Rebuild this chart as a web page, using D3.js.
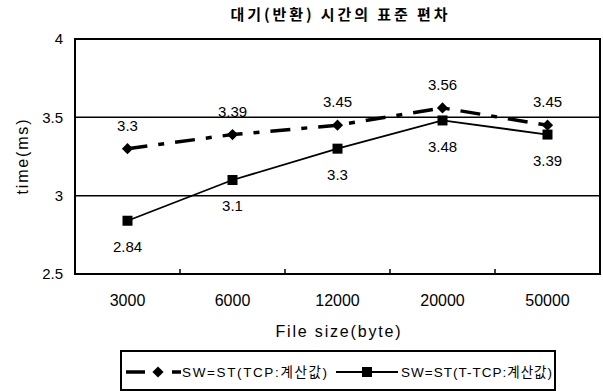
<!DOCTYPE html>
<html>
<head>
<meta charset="utf-8">
<script src="https://cdn.jsdelivr.net/npm/d3@7"></script>
<style>
  body { margin: 0; background: #fff; }
  text { font-family: "Liberation Sans", Arial, "Noto Sans CJK KR", sans-serif; fill: #000; }
  .kr { font-family: "Noto Sans CJK KR", "Liberation Sans", sans-serif; }
</style>
</head>
<body>
<svg id="chart" width="603" height="392"></svg>
<script>
/* data */
var fileSizes = ["3000", "6000", "12000", "20000", "50000"];
var tcpValues = [3.3, 3.39, 3.45, 3.56, 3.45];
var ttcpValues = [2.84, 3.1, 3.3, 3.48, 3.39];
var yTicks = [2.5, 3, 3.5, 4];
var seriesNames = ["SW=ST(TCP:계산값)", "SW=ST(T-TCP:계산값)"];
var chartTitle = "대기(반환) 시간의 표준 편차";

var svg = d3.select("#chart");

var plotLeft = 75, plotRight = 600, plotTop = 39, plotBottom = 274;

var x = d3.scaleBand().domain(fileSizes).range([plotLeft, plotRight]);
var y = d3.scaleLinear().domain([2.5, 4]).range([plotBottom, plotTop]);

function cx(i) { return x(fileSizes[i]) + x.bandwidth() / 2; }

// title
svg.append("text")
  .attr("class", "kr")
  .attr("x", 339).attr("y", 15)
  .attr("dy", "0.35em")
  .attr("text-anchor", "middle")
  .attr("font-size", 15)
  .attr("font-weight", "bold")
  .attr("textLength", 217)
  .attr("lengthAdjust", "spacing")
  .text(chartTitle);

// gridlines (inner)
svg.selectAll(".grid")
  .data(yTicks.filter(function(d) { return d > 2.5 && d < 4; }))
  .enter().append("line")
    .attr("x1", plotLeft).attr("x2", plotRight)
    .attr("y1", function(d) { return y(d); })
    .attr("y2", function(d) { return y(d); })
    .attr("stroke", "#000")
    .attr("stroke-width", 1.5);

// plot border
svg.append("rect")
  .attr("x", plotLeft).attr("y", plotTop)
  .attr("width", plotRight - plotLeft)
  .attr("height", plotBottom - plotTop)
  .attr("fill", "none")
  .attr("stroke", "#000")
  .attr("stroke-width", 2);

// y axis labels
svg.selectAll(".ylab")
  .data(yTicks)
  .enter().append("text")
    .attr("x", plotLeft - 12)
    .attr("y", function(d) { return y(d); })
    .attr("dy", "0.35em")
    .attr("text-anchor", "end")
    .attr("font-size", 15)
    .text(function(d) { return d; });

// x axis labels
var gx = svg.append("g")
  .attr("transform", "translate(0," + plotBottom + ")")
  .call(d3.axisBottom(x).tickSize(0));
gx.select(".domain").remove();
gx.selectAll("text")
  .attr("font-size", 16)
  .attr("font-family", "Liberation Sans, Arial, sans-serif")
  .attr("fill", "#000")
  .attr("dy", "0.35em")
  .attr("y", 26);

// inner ticks at band boundaries
svg.selectAll(".xtick")
  .data(fileSizes.slice(1))
  .enter().append("line")
    .attr("x1", function(d) { return x(d); })
    .attr("x2", function(d) { return x(d); })
    .attr("y1", plotBottom)
    .attr("y2", plotBottom - 5)
    .attr("stroke", "#000")
    .attr("stroke-width", 1.5);

// axis titles
svg.append("text")
  .attr("transform", "translate(22,157) rotate(-90)")
  .attr("dy", "0.35em")
  .attr("text-anchor", "middle")
  .attr("font-size", 16)
  .attr("textLength", 75)
  .attr("lengthAdjust", "spacing")
  .text("time(ms)");

svg.append("text")
  .attr("x", 338).attr("y", 331)
  .attr("dy", "0.35em")
  .attr("text-anchor", "middle")
  .attr("font-size", 16)
  .attr("textLength", 125)
  .attr("lengthAdjust", "spacing")
  .text("File size(byte)");

// lines
var line = d3.line()
  .x(function(d, i) { return cx(i); })
  .y(function(d) { return y(d); });

svg.append("path")
  .datum(ttcpValues)
  .attr("d", line)
  .attr("fill", "none")
  .attr("stroke", "#000")
  .attr("stroke-width", 1.8);

svg.append("path")
  .datum(tcpValues)
  .attr("d", line)
  .attr("fill", "none")
  .attr("stroke", "#000")
  .attr("stroke-width", 3.5)
  .attr("stroke-dasharray", "20,11,6,11");

// markers
var diamond = d3.symbol().type(d3.symbolDiamond2).size(80);
svg.selectAll(".tcp-pt")
  .data(tcpValues)
  .enter().append("path")
    .attr("d", diamond)
    .attr("transform", function(d, i) { return "translate(" + cx(i) + "," + y(d) + ")"; })
    .attr("fill", "#000");

svg.selectAll(".ttcp-pt")
  .data(ttcpValues)
  .enter().append("rect")
    .attr("x", function(d, i) { return cx(i) - 5; })
    .attr("y", function(d) { return y(d) - 5; })
    .attr("width", 10).attr("height", 10)
    .attr("fill", "#000");

// data labels
svg.selectAll(".tcp-lab")
  .data(tcpValues)
  .enter().append("text")
    .attr("x", function(d, i) { return cx(i); })
    .attr("y", function(d) { return y(d) - 23; })
    .attr("dy", "0.35em")
    .attr("text-anchor", "middle")
    .attr("font-size", 15)
    .text(function(d) { return d; });

svg.selectAll(".ttcp-lab")
  .data(ttcpValues)
  .enter().append("text")
    .attr("x", function(d, i) { return cx(i); })
    .attr("y", function(d) { return y(d) + 26; })
    .attr("dy", "0.35em")
    .attr("text-anchor", "middle")
    .attr("font-size", 15)
    .text(function(d) { return d; });

// legend
var legend = svg.append("g");
legend.append("rect")
  .attr("x", 121).attr("y", 351)
  .attr("width", 434).attr("height", 39)
  .attr("fill", "#fff")
  .attr("stroke", "#000")
  .attr("stroke-width", 2);

legend.append("line")
  .attr("x1", 126).attr("x2", 181)
  .attr("y1", 372).attr("y2", 372)
  .attr("stroke", "#000")
  .attr("stroke-width", 3.5)
  .attr("stroke-dasharray", "19,27,9,100");
legend.append("path")
  .attr("d", diamond)
  .attr("transform", "translate(158,372)")
  .attr("fill", "#000");
legend.append("text")
  .attr("x", 182).attr("y", 372)
  .attr("dy", "0.35em")
  .attr("font-size", 13.5)
  .attr("textLength", 145)
  .attr("lengthAdjust", "spacing")
  .text(seriesNames[0]);

legend.append("line")
  .attr("x1", 336).attr("x2", 398)
  .attr("y1", 372).attr("y2", 372)
  .attr("stroke", "#000")
  .attr("stroke-width", 1.8);
legend.append("rect")
  .attr("x", 362).attr("y", 367)
  .attr("width", 10).attr("height", 10)
  .attr("fill", "#000");
legend.append("text")
  .attr("x", 401).attr("y", 372)
  .attr("dy", "0.35em")
  .attr("font-size", 13.5)
  .attr("textLength", 151)
  .attr("lengthAdjust", "spacing")
  .text(seriesNames[1]);
</script>
</body>
</html>
